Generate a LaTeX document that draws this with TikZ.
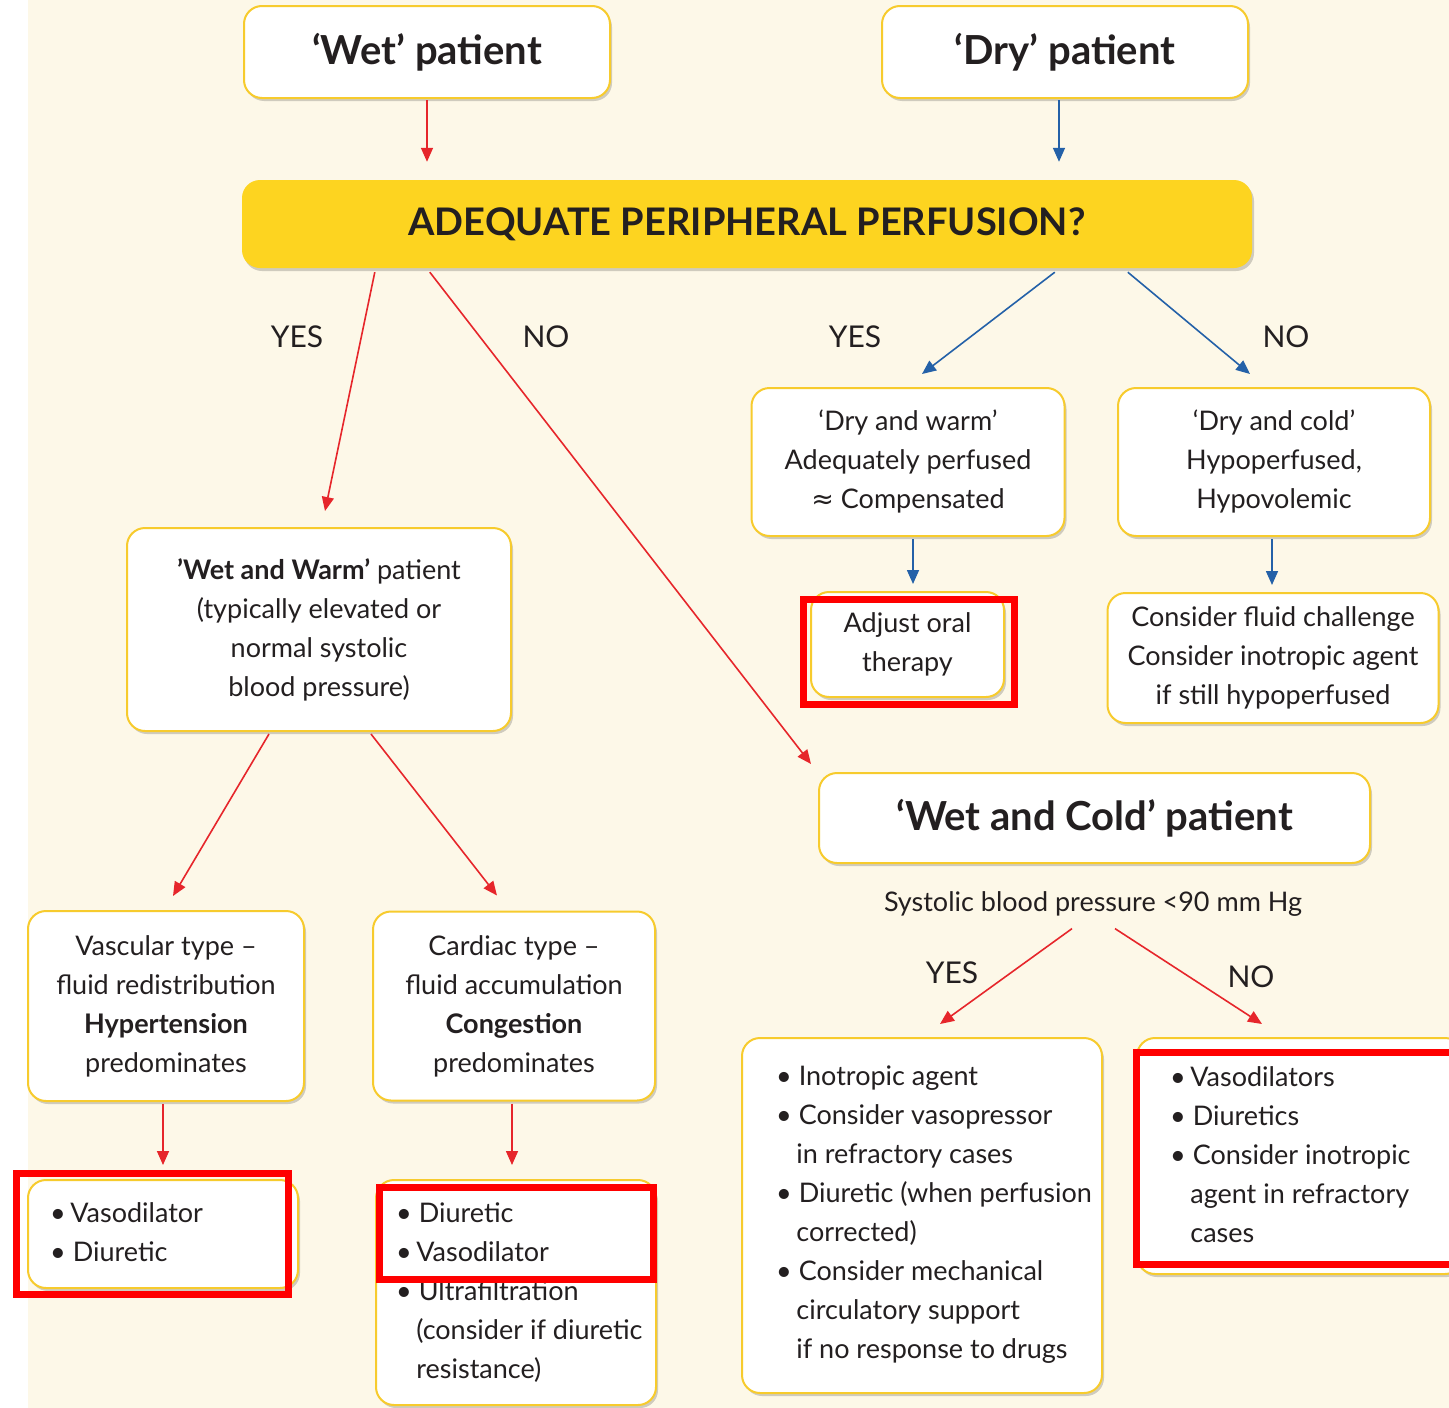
\documentclass[tikz,border=0pt]{standalone}
\usepackage{fontspec}
\setmainfont{Lato}
\newfontfamily\symf{DejaVu Sans}
\usetikzlibrary{arrows.meta,shadows}
\definecolor{cream}{HTML}{FDF8E8}
\definecolor{qyellow}{HTML}{FDD420}
\definecolor{boxline}{HTML}{F7CB2D}
\definecolor{arrred}{HTML}{E6262B}
\definecolor{arrblue}{HTML}{2461A8}
\definecolor{ink}{HTML}{231F20}
\newcommand\nrm{\fontsize{27}{39}\selectfont}
\newcommand\bigb{\fontsize{40}{44}\selectfont\bfseries}
\begin{document}
\begin{tikzpicture}[x=1pt,y=-1pt,
  box/.style={draw=boxline, line width=2pt, fill=white, rounded corners=18pt,
    align=center, font=\nrm, text=ink, inner sep=0pt,
    drop shadow={shadow xshift=2pt, shadow yshift=-3pt, opacity=0.18, fill=black}},
  qbox/.style={fill=qyellow, rounded corners=18pt, align=center, text=ink, inner sep=0pt,
    font=\fontsize{38}{44}\selectfont\bfseries,
    drop shadow={shadow xshift=2pt, shadow yshift=-3pt, opacity=0.18, fill=black}},
  txt/.style={font=\nrm, text=ink, inner sep=0pt, align=left},
  lbl/.style={font=\nrm, text=ink, inner sep=0pt},
  yn/.style={font=\fontsize{30}{36}\selectfont, text=ink, inner sep=0pt},
  ra/.style={draw=arrred, line width=1.6pt, -{Triangle[length=14pt,width=12pt]}},
  ba/.style={draw=arrblue, line width=1.6pt, -{Triangle[length=14pt,width=12pt]}},
  hl/.style={draw=red, line width=7pt}
]
\useasboundingbox (0,0) rectangle (1449,1408);
\fill[white] (0,0) rectangle (1449,1408);
\fill[cream] (28,0) rectangle (1449,1408);

% top boxes
\node[box, font=\bigb, minimum width=366pt, minimum height=92pt] (wet) at (427,52) {\raisebox{7pt}{‘Wet’ patient}};
\node[box, font=\bigb, minimum width=366pt, minimum height=92pt] (dry) at (1065,52) {\raisebox{7pt}{‘Dry’ patient}};
\node[qbox, minimum width=1010pt, minimum height=88pt] (q) at (747,224) {\raisebox{-3pt}{ADEQUATE PERIPHERAL PERFUSION?}};

% second level
\node[box, minimum width=384pt, minimum height=203pt] (wwarm) at (319,629.5)
  {{\bfseries ’Wet and Warm’} patient\\(typically elevated or\\normal systolic\\blood pressure)};
\node[box, minimum width=313pt, minimum height=148pt] (dwarm) at (908,462)
  {\raisebox{3pt}{\begin{tabular}{@{}c@{}}‘Dry and warm’\\Adequately perfused\\{\symf ≈} Compensated\end{tabular}}};
\node[box, minimum width=312pt, minimum height=148pt] (dcold) at (1274,462)
  {\raisebox{3pt}{\begin{tabular}{@{}c@{}}‘Dry and cold’\\Hypoperfused,\\Hypovolemic\end{tabular}}};
\node[box, minimum width=193pt, minimum height=105pt] (adjust) at (907.5,644.5)
  {Adjust oral\\therapy};
\node[box, minimum width=331pt, minimum height=130pt] (fluid) at (1273,658)
  {Consider fluid challenge\\Consider inotropic agent\\if still hypoperfused};
\node[box, font=\bigb, minimum width=551pt, minimum height=90pt] (wcold) at (1094.5,818)
  {\raisebox{5pt}{‘Wet and Cold’ patient}};
\node[lbl] (sbp) at (1093,904) {Systolic blood pressure <90 mm Hg};

% third level
\node[box, minimum width=276pt, minimum height=190pt] (vasc) at (166,1006)
  {Vascular type –\\fluid redistribution\\{\bfseries Hypertension}\\predominates};
\node[box, minimum width=282pt, minimum height=189pt] (cardiac) at (514,1006)
  {Cardiac type –\\fluid accumulation\\{\bfseries Congestion}\\predominates};

% therapy boxes
\node[box, minimum width=270pt, minimum height=108pt] (vd) at (163,1234) {};
\node[txt, anchor=north west] (vdt) at (50,1202) {•\,Vasodilator\\• Diuretic};
\node[box, minimum width=280pt, minimum height=225pt] (cardbot) at (516,1292.5) {};
\node[txt, anchor=north west] (cardbott) at (396,1202)
  {• Diuretic\\•\,Vasodilator\\• Ultrafiltration\\\phantom{•\,}(consider if diuretic\\\phantom{•\,}resistance)};
\node[box, minimum width=360pt, minimum height=355pt] (yesbox) at (922,1215.5) {};
\node[txt, anchor=north west] (yesboxt) at (776,1066)
  {• Inotropic agent\\• Consider vasopressor\\\phantom{•\,}in refractory cases\\• Diuretic (when perfusion\\\phantom{•\,}corrected)\\• Consider mechanical\\\phantom{•\,}circulatory support\\\phantom{•\,}if no response to drugs};
\node[box, minimum width=326pt, minimum height=236pt] (nobox) at (1300,1156) {};
\node[txt, anchor=north west] (noboxt) at (1170,1066)
  {•\,Vasodilators\\• Diuretics\\• Consider inotropic\\\phantom{•\,}agent in refractory\\\phantom{•\,}cases};

% labels
\node[yn] (y1) at (297,337) {YES};
\node[yn] (n1) at (546,337) {NO};
\node[yn] (y2) at (855,337) {YES};
\node[yn] (n2) at (1286,337) {NO};
\node[yn] (y3) at (952,973) {YES};
\node[yn] (n3) at (1251,977) {NO};

% connectors
\draw[ra, shorten <=1pt, shorten >=18pt] (wet.south) -- (wet.south |- q.north);
\draw[ba, shorten <=1pt, shorten >=18pt] ([xshift=-6pt]dry.south) -- ([xshift=-6pt]dry.south |- q.north);
\draw[ra] ([xshift=133pt,yshift=-4pt]q.south west) -- ([xshift=6pt,yshift=16pt]wwarm.north);
\draw[ra] ([xshift=188pt,yshift=-4pt]q.south west) -- ([xshift=-7pt,yshift=8pt]wcold.north west);
\draw[ba] ([xshift=813pt,yshift=-4pt]q.south west) -- ([xshift=14pt,yshift=13pt]dwarm.north);
\draw[ba] ([xshift=886pt,yshift=-4pt]q.south west) -- ([xshift=-24pt,yshift=13pt]dcold.north);
\draw[ba, shorten <=2pt, shorten >=7pt] ([xshift=5pt]dwarm.south) -- ([xshift=5pt]dwarm.south |- adjust.north);
\draw[ba, shorten <=2pt, shorten >=7pt] ([xshift=-2pt]dcold.south) -- ([xshift=-2pt]dcold.south |- fluid.north);
\draw[ra] ([xshift=143pt,yshift=-2pt]wwarm.south west) -- ([xshift=7pt,yshift=14pt]vasc.north);
\draw[ra] ([xshift=245pt,yshift=-2pt]wwarm.south west) -- ([xshift=-17pt,yshift=15pt]cardiac.north);
\draw[ra, shorten <=2pt, shorten >=14pt] ([xshift=-3pt]vasc.south) -- ([xshift=-3pt]vasc.south |- vd.north);
\draw[ra, shorten <=2pt, shorten >=14pt] ([xshift=-2pt]cardiac.south) -- ([xshift=-2pt]cardiac.south |- cardbot.north);
\draw[ra] ([xshift=-21pt,yshift=-12pt]sbp.south) -- ([xshift=18pt,yshift=13pt]yesbox.north);
\draw[ra] ([xshift=22pt,yshift=-12pt]sbp.south) -- ([xshift=-38pt,yshift=13pt]nobox.north);

% red highlight frames
\draw[hl] (803.5,599.5) rectangle (1014.5,704.5);
\draw[hl] (16.5,1173.5) rectangle (288.5,1294.5);
\draw[hl] (379.5,1187.5) rectangle (653.5,1279.5);
\draw[hl] (1136.5,1052.5) rectangle (1460,1264.5);
\end{tikzpicture}
\end{document}
